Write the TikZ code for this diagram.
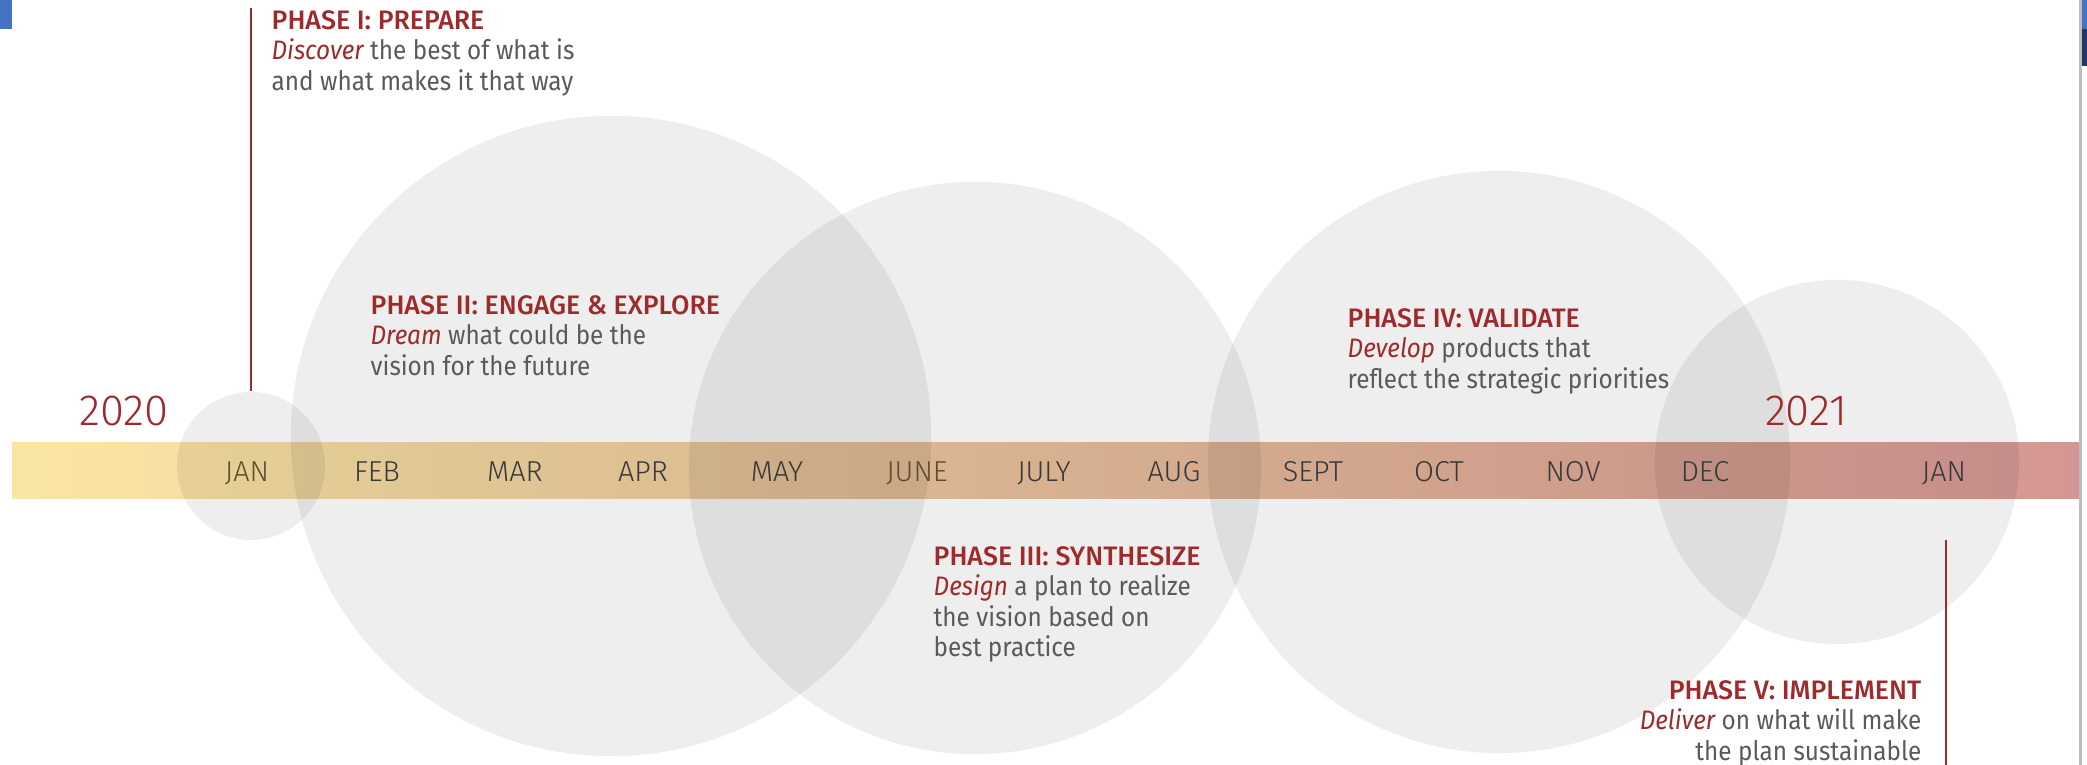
\documentclass[tikz,border=0pt]{standalone}
\usepackage{fontspec}
\setmainfont{Fira Sans}[FakeStretch = 0.91]
\newfontfamily\lightfont{Fira Sans Light}
\newfontfamily\medfont{Fira Sans Medium}
\definecolor{phasered}{HTML}{9E2A2B}
\definecolor{bodygray}{HTML}{5A5A5A}
\definecolor{monthgray}{HTML}{383838}
\definecolor{monthbrown}{HTML}{5E4C2C}
\definecolor{bandleft}{HTML}{FAE6A3}
\definecolor{bandright}{HTML}{D49693}
\definecolor{edgegray}{HTML}{BDBDBD}
\definecolor{tabblue}{HTML}{4472C4}
\definecolor{tabnavy}{HTML}{1F3864}
\newcommand{\PhaseTitle}[1]{{\medfont\color{phasered}#1}}
\newcommand{\PhaseVerb}[1]{{\itshape\color{phasered}#1}}

\begin{document}
\begin{tikzpicture}[x = 0.01cm, y = -0.01cm]
\tikzstyle{Bubble}=[
shape = circle,
inner sep = 0pt,
fill = black,
fill opacity = 0.065]
\tikzstyle{Month}=[anchor = base, inner sep = 0pt, text = monthgray,
font = \lightfont\fontsize{8.2}{9}\selectfont]
\tikzstyle{Year}=[anchor = base, inner sep = 0pt, text = phasered,
font = \lightfont\fontsize{12.4}{14}\selectfont]
\tikzstyle{Phase}=[anchor = north west, align = left, inner sep = 0pt, text = bodygray,
font = \fontsize{7.6}{8.6}\selectfont]
\tikzstyle{Tick}=[draw = phasered, line width = 0.8pt]
\useasboundingbox (0,0) rectangle (2087,765);
\fill[white] (0,0) rectangle (2087,765);
\fill[tabblue] (0,0) rectangle (12,29);
\fill[tabblue] (2082,0) rectangle (2087,29);
\fill[tabnavy] (2082,29) rectangle (2087,66);
\fill[edgegray] (2079,0) rectangle (2082,765);
\fill[left color = bandleft, right color = bandright] (12,443) rectangle (2079,499);
\node[Bubble, minimum size = 1.48cm] (c1) at (251,466) {};
\node[Bubble, minimum size = 6.40cm] (c2) at (611,436) {};
\node[Bubble, minimum size = 5.72cm] (c3) at (975,468) {};
\node[Bubble, minimum size = 5.82cm] (c4) at (1499,462) {};
\node[Bubble, minimum size = 3.64cm] (c5) at (1837,462) {};
\coordinate (t1) at (251,8);
\coordinate (t2a) at (1946,540);
\coordinate (t2b) at (1946,765);
\draw[Tick] (t1) -- (c1.north);
\draw[Tick] (t2a) -- (t2b);
\node[Year] (y20) at (124,426) {2020};
\node[Year] (y21) at (1806,426) {2021};
\node[Month, text = monthbrown] (m1) at (247,482) {JAN};
\node[Month] (m2) at (377,482) {FEB};
\node[Month] (m3) at (515,482) {MAR};
\node[Month] (m4) at (643,482) {APR};
\node[Month] (m5) at (777,482) {MAY};
\node[Month, text = monthbrown] (m6) at (917,482) {JUNE};
\node[Month] (m7) at (1044,482) {JULY};
\node[Month] (m8) at (1174,482) {AUG};
\node[Month] (m9) at (1313,482) {SEPT};
\node[Month] (m10) at (1439,482) {OCT};
\node[Month] (m11) at (1573,482) {NOV};
\node[Month] (m12) at (1705,482) {DEC};
\node[Month] (m13) at (1944,482) {JAN};
\node[Phase] (p1) at (271,10) {\PhaseTitle{PHASE I: PREPARE}\\
\PhaseVerb{Discover} the best of what is\\ and what makes it that way};
\node[Phase] (p2) at (370,295) {\PhaseTitle{PHASE II: ENGAGE \& EXPLORE}\\
\PhaseVerb{Dream} what could be the\\ vision for the future};
\node[Phase] (p3) at (933,546) {\PhaseTitle{PHASE III: SYNTHESIZE}\\
\PhaseVerb{Design} a plan to realize\\ the vision based on\\ best practice};
\node[Phase] (p4) at (1347,308) {\PhaseTitle{PHASE IV: VALIDATE}\\
\PhaseVerb{Develop} products that\\ reflect the strategic priorities};
\node[Phase, anchor = north east, align = right] (p5) at (1922,680) {\PhaseTitle{PHASE V: IMPLEMENT}\\
\PhaseVerb{Deliver} on what will make\\ the plan sustainable};
\end{tikzpicture}
\end{document}
